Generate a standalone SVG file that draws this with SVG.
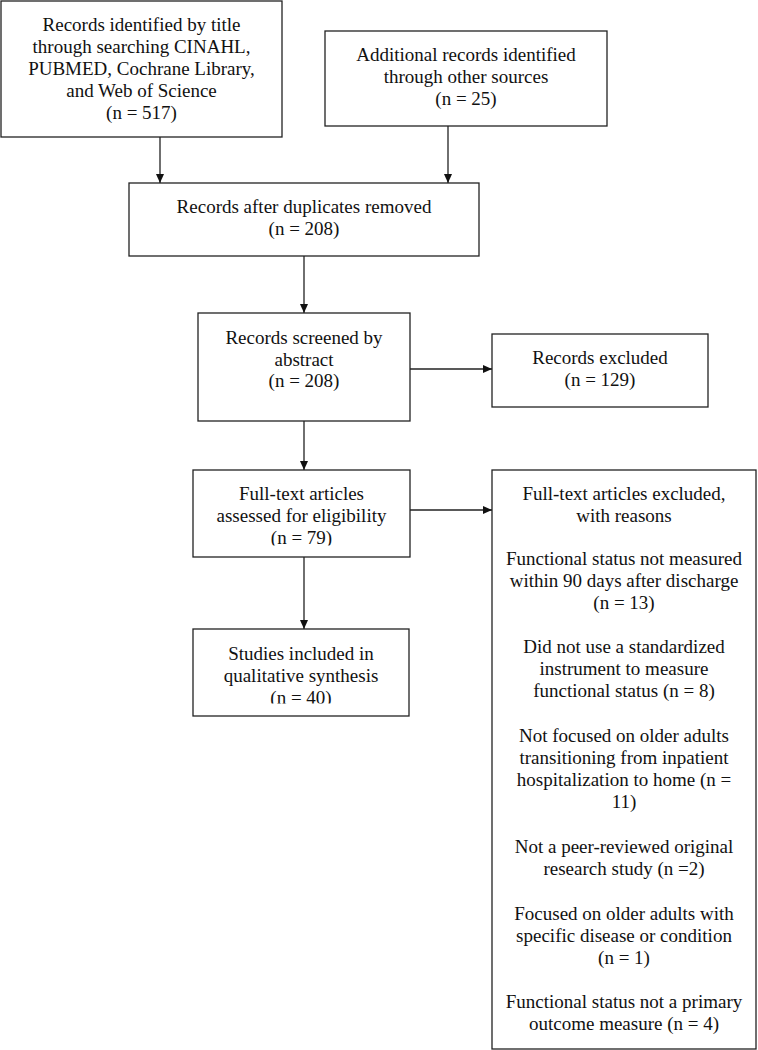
<svg xmlns="http://www.w3.org/2000/svg" width="758" height="1050" viewBox="0 0 758 1050">
<style>
.box{fill:#fff;stroke:#222;stroke-width:1.3}
.t{font-family:"Liberation Serif","Times New Roman",serif;font-size:19px;fill:#111;text-anchor:middle}
.c{fill:none;stroke:#222;stroke-width:1.3;marker-end:url(#ah)}
</style>
<defs>
<marker id="ah" markerUnits="userSpaceOnUse" markerWidth="9" markerHeight="8" refX="9" refY="4" orient="auto">
<path d="M0,0 L9,4 L0,8 Z" fill="#111"/>
</marker>
<clipPath id="clip6"><rect x="193" y="470" width="217" height="75.5"/></clipPath>
<clipPath id="clip8"><rect x="193" y="629" width="216" height="74.5"/></clipPath>
</defs>
<rect width="758" height="1050" fill="#fff"/>
<g id="connectors">
<path class="c" d="M160,137 V183"/>
<path class="c" d="M448,126 V183"/>
<path class="c" d="M304,256 V313"/>
<path class="c" d="M407,369 H492"/>
<path class="c" d="M304,421 V470"/>
<path class="c" d="M410,510 H492"/>
<path class="c" d="M304,557 V629"/>
</g>
<g id="n1">
<rect class="box" x="1" y="1" width="281" height="136"/>
<text class="t" x="141.5" y="31">Records identified by title</text>
<text class="t" x="141.5" y="53">through searching CINAHL,</text>
<text class="t" x="141.5" y="75">PUBMED, Cochrane Library,</text>
<text class="t" x="141.5" y="97">and Web of Science</text>
<text class="t" x="141.5" y="119">(n = 517)</text>
</g>
<g id="n2">
<rect class="box" x="325" y="31" width="282" height="95"/>
<text class="t" x="466" y="61">Additional records identified</text>
<text class="t" x="466" y="83">through other sources</text>
<text class="t" x="466" y="105">(n = 25)</text>
</g>
<g id="n3">
<rect class="box" x="129" y="183" width="350" height="73"/>
<text class="t" x="304" y="213">Records after duplicates removed</text>
<text class="t" x="304" y="235">(n = 208)</text>
</g>
<g id="n4">
<rect class="box" x="198" y="313" width="212" height="108"/>
<text class="t" x="304" y="344">Records screened by</text>
<text class="t" x="304" y="366">abstract</text>
<text class="t" x="304" y="387">(n = 208)</text>
</g>
<g id="n5">
<rect class="box" x="492" y="334" width="216" height="73"/>
<text class="t" x="600" y="364">Records excluded</text>
<text class="t" x="600" y="386">(n = 129)</text>
</g>
<g id="n6">
<rect class="box" x="193" y="470" width="217" height="87"/>
<text class="t" x="301.5" y="500">Full-text articles</text>
<text class="t" x="301.5" y="522">assessed for eligibility</text>
<text class="t" x="301.5" y="544" clip-path="url(#clip6)">(n = 79)</text>
</g>
<g id="n7">
<rect class="box" x="492" y="470" width="264" height="579"/>
<text class="t" x="624" y="500">Full-text articles excluded,</text>
<text class="t" x="624" y="522">with reasons</text>
<text class="t" x="624" y="565">Functional status not measured</text>
<text class="t" x="624" y="587">within 90 days after discharge</text>
<text class="t" x="624" y="609">(n = 13)</text>
<text class="t" x="624" y="653">Did not use a standardized</text>
<text class="t" x="624" y="675">instrument to measure</text>
<text class="t" x="624" y="697">functional status (n = 8)</text>
<text class="t" x="624" y="742">Not focused on older adults</text>
<text class="t" x="624" y="764">transitioning from inpatient</text>
<text class="t" x="624" y="786">hospitalization to home (n =</text>
<text class="t" x="624" y="808">11)</text>
<text class="t" x="624" y="853">Not a peer-reviewed original</text>
<text class="t" x="624" y="875">research study (n =2)</text>
<text class="t" x="624" y="920">Focused on older adults with</text>
<text class="t" x="624" y="942">specific disease or condition</text>
<text class="t" x="624" y="964">(n = 1)</text>
<text class="t" x="624" y="1008">Functional status not a primary</text>
<text class="t" x="624" y="1030">outcome measure (n = 4)</text>
</g>
<g id="n8">
<rect class="box" x="193" y="629" width="216" height="87"/>
<text class="t" x="301" y="660">Studies included in</text>
<text class="t" x="301" y="682">qualitative synthesis</text>
<text class="t" x="301" y="704" clip-path="url(#clip8)">(n = 40)</text>
</g>
</svg>
